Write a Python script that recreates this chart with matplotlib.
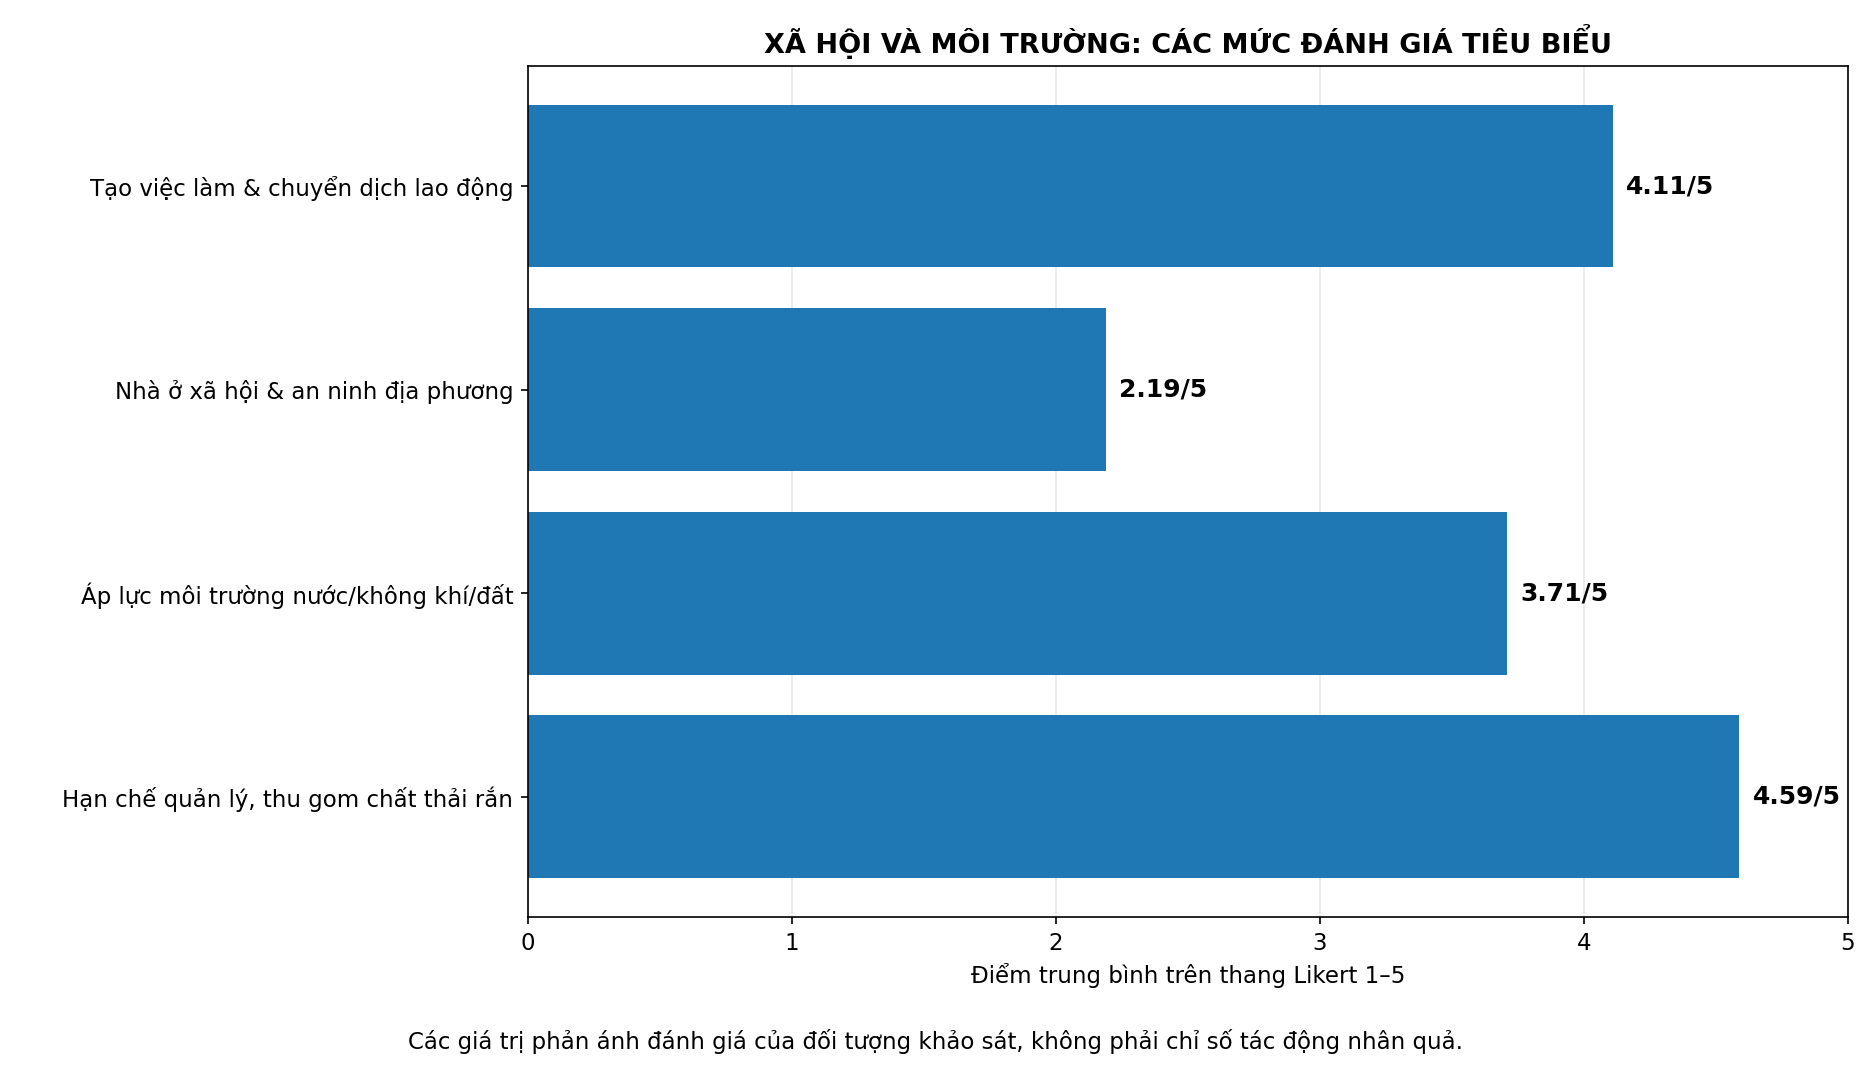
import numpy as np
import matplotlib.pyplot as plt

categories = [
    "Tạo việc làm & chuyển dịch lao động",
    "Nhà ở xã hội & an ninh địa phương",
    "Áp lực môi trường nước/không khí/đất",
    "Hạn chế quản lý, thu gom chất thải rắn",
]
scores = [4.11, 2.19, 3.71, 4.59]

fig = plt.figure(figsize=(12.48, 7.2), dpi=150)
ax = fig.add_axes([0.282, 0.151, 0.705, 0.788])

y = np.arange(len(categories))
ax.barh(y, scores, height=0.8, color="#1f77b4", zorder=2)
ax.set_yticks(y)
ax.set_yticklabels(categories, fontsize=11)
ax.invert_yaxis()
ax.set_xlim(0, 5)
ax.tick_params(axis="x", labelsize=11)
ax.grid(axis="x", color="#dddddd", alpha=0.7, zorder=0)
ax.set_axisbelow(True)

for yi, v in zip(y, scores):
    ax.text(v + 0.05, yi, "{:.2f}/5".format(v), va="center", ha="left",
            fontsize=12, fontweight="bold")

ax.set_xlabel("Điểm trung bình trên thang Likert 1–5", fontsize=11)
ax.set_title("XÃ HỘI VÀ MÔI TRƯỜNG: CÁC MỨC ĐÁNH GIÁ TIÊU BIỂU",
             fontsize=13, fontweight="bold")
fig.text(0.5, 0.029,
         "Các giá trị phản ánh đánh giá của đối tượng khảo sát, không phải chỉ số tác động nhân quả.",
         ha="center", fontsize=11)

fig.savefig("out.png")
